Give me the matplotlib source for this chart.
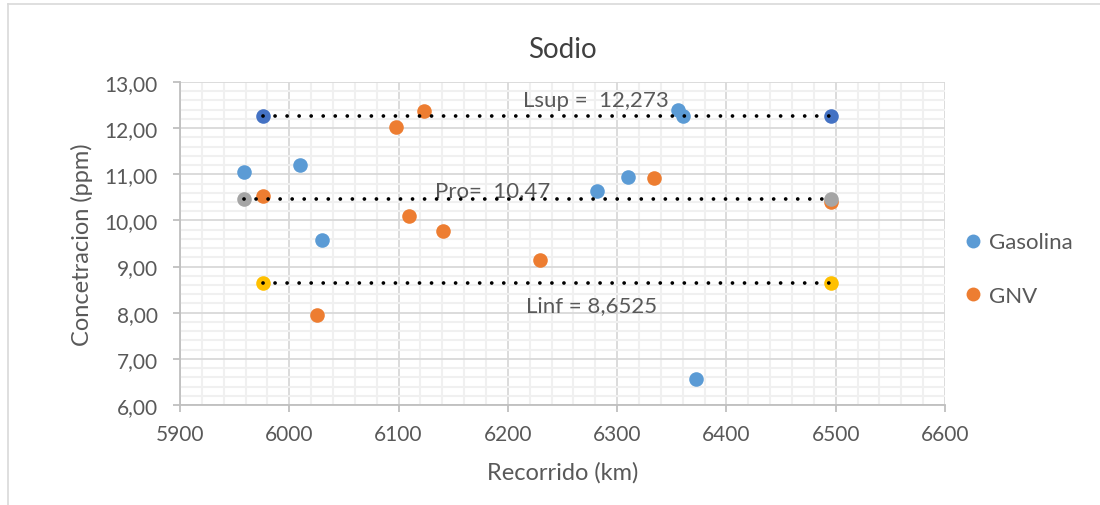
import matplotlib.pyplot as plt
from matplotlib.lines import Line2D
from matplotlib.ticker import MultipleLocator, FuncFormatter

# Recorrido (km) y concentracion de sodio (ppm) por combustible
gasolina_km = [5959, 6010, 6030, 6282, 6310, 6356, 6360, 6372]
gasolina_ppm = [11.05, 11.20, 9.57, 10.63, 10.94, 12.40, 12.27, 6.57]

gnv_km = [5976, 6098, 6123, 6110, 6141, 6025, 6229, 6334, 6496]
gnv_ppm = [10.52, 12.02, 12.37, 10.10, 9.77, 7.94, 9.15, 10.91, 10.39]

# Limites de control y promedio
lsup = 12.273
pro = 10.47
linf = 8.6525
lsup_km = [5976, 6496]
pro_km = [5959, 6496]
linf_km = [5976, 6496]

blue = "#5B9BD5"
orange = "#ED7D31"
txt = "#595959"
font = "Lato"

fig = plt.figure(figsize=(11, 5.06), dpi=100)
ax = fig.add_axes([180 / 1100, 1 - 406 / 506, 765 / 1100, 323 / 506])

ax.set_xlim(5900, 6600)
ax.set_ylim(6, 13)
ax.xaxis.set_major_locator(MultipleLocator(100))
ax.xaxis.set_minor_locator(MultipleLocator(20))
ax.yaxis.set_major_locator(MultipleLocator(1))
ax.yaxis.set_minor_locator(MultipleLocator(0.2))
ax.yaxis.set_major_formatter(FuncFormatter(lambda v, p: f"{v:.2f}".replace(".", ",")))

ax.grid(which="minor", color="#F0F0F0", linewidth=1.5, zorder=0)
ax.grid(which="major", color="#D9D9D9", linewidth=1.3, zorder=0)
ax.set_axisbelow(True)
for side in ["top", "right"]:
    ax.spines[side].set_visible(False)
for side in ["left", "bottom"]:
    ax.spines[side].set_color("#BFBFBF")
    ax.spines[side].set_linewidth(1.3)
ax.tick_params(which="major", length=5, color="#BFBFBF", width=1.3,
               labelsize=15, labelcolor=txt)
ax.tick_params(axis="x", pad=9)
ax.tick_params(axis="y", pad=11)
ax.tick_params(which="minor", length=0)
for lab in ax.get_xticklabels() + ax.get_yticklabels():
    lab.set_fontfamily(font)

ax.scatter(gasolina_km, gasolina_ppm, s=110, color=blue, zorder=3, linewidths=0)
ax.scatter(gnv_km, gnv_ppm, s=110, color=orange, zorder=3, linewidths=0)

# lineas punteadas con marcadores en los extremos
for km, val, col in [(lsup_km, lsup, "#4472C4"), (pro_km, pro, "#A5A5A5"),
                     (linf_km, linf, "#FFC000")]:
    ax.scatter(km, [val, val], s=110, color=col, zorder=3, linewidths=0)
    ax.plot(km, [val, val], color="black", linestyle=(0, (0.01, 3.2)),
            linewidth=2.7, dash_capstyle="round", zorder=4)

ax.text(6214, lsup + 0.34, "Lsup =  12,273", fontsize=16, color=txt,
        family=font, va="center", ha="left")
ax.text(6133, pro + 0.17, "Pro=  10.47", fontsize=16, color=txt,
        family=font, va="center", ha="left")
ax.text(6217, linf - 0.48, "Linf = 8,6525", fontsize=16, color=txt,
        family=font, va="center", ha="left")

ax.set_title("Sodio", fontsize=20, color="#404040", family=font, pad=18)
ax.set_xlabel("Recorrido (km)", fontsize=17, color=txt, family=font, labelpad=12)
ax.set_ylabel("Concetracion (ppm)", fontsize=17, color=txt, family=font, labelpad=8)

handles = [Line2D([], [], marker="o", linestyle="", markersize=10,
                  markerfacecolor=c, markeredgewidth=0) for c in (blue, orange)]
leg = fig.legend(handles, ["Gasolina", "GNV"], loc="center left",
                 bbox_to_anchor=(940 / 1100, 1 - 270 / 506), frameon=False,
                 handletextpad=0.1, labelspacing=1.5, handlelength=1.2,
                 prop={"family": font, "size": 16})
for t in leg.get_texts():
    t.set_color(txt)

# marco exterior del grafico
fig.add_artist(Line2D([8 / 1100, 1], [1 - 5 / 506] * 2, color="#D9D9D9", linewidth=1.2))
fig.add_artist(Line2D([8 / 1100] * 2, [0, 1 - 5 / 506], color="#D9D9D9", linewidth=1.2))

fig.savefig("out.png", dpi=100, facecolor="white")
